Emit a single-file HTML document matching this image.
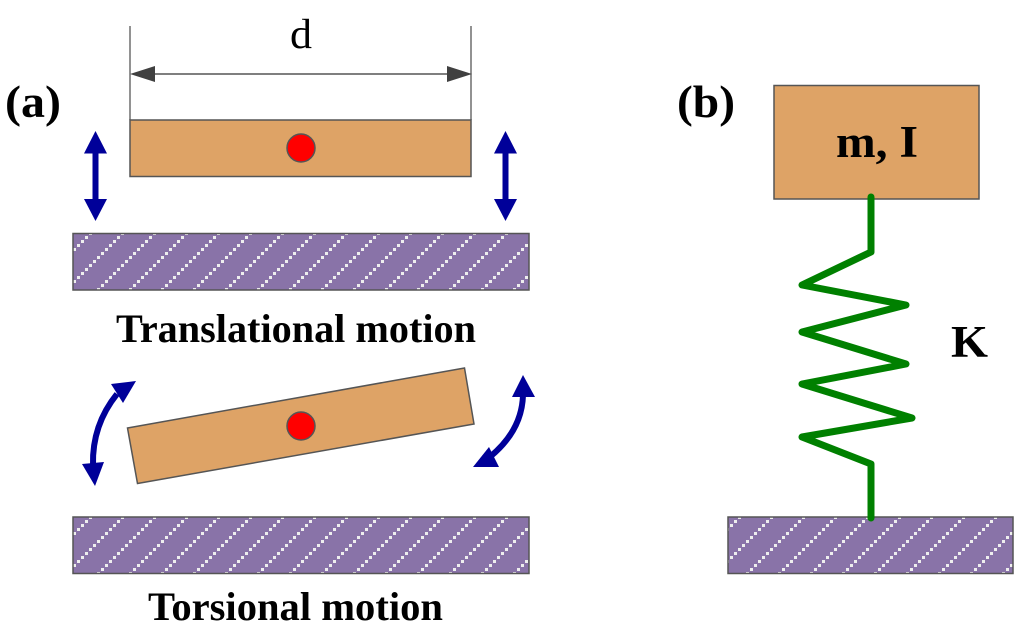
<!DOCTYPE html>
<html><head><meta charset="utf-8"><style>
html,body{margin:0;padding:0;background:#fff}
svg{display:block}
text{font-family:"Liberation Serif",serif;fill:#000}
.b{font-weight:bold}
</style></head><body>
<svg width="1024" height="639" viewBox="0 0 1024 639" xmlns="http://www.w3.org/2000/svg">
<defs>
<pattern id="h1" patternUnits="userSpaceOnUse" width="32" height="32" x="1" y="0"><rect width="32" height="32" fill="#8973a8"/><path fill="#eee" d="M0 0h3v3h-3zM4 28h3v3h-3zM8 24h3v3h-3zM12 20h3v3h-3zM16 16h3v3h-3zM20 12h3v3h-3zM24 8h3v3h-3zM28 4h3v3h-3z"/></pattern>
<pattern id="h2" patternUnits="userSpaceOnUse" width="32" height="32" x="-3" y="0"><rect width="32" height="32" fill="#8973a8"/><path fill="#eee" d="M0 0h3v3h-3zM4 28h3v3h-3zM8 24h3v3h-3zM12 20h3v3h-3zM16 16h3v3h-3zM20 12h3v3h-3zM24 8h3v3h-3zM28 4h3v3h-3z"/></pattern>
<pattern id="h3" patternUnits="userSpaceOnUse" width="32" height="32" x="6" y="0"><rect width="32" height="32" fill="#8973a8"/><path fill="#eee" d="M0 0h3v3h-3zM4 28h3v3h-3zM8 24h3v3h-3zM12 20h3v3h-3zM16 16h3v3h-3zM20 12h3v3h-3zM24 8h3v3h-3zM28 4h3v3h-3z"/></pattern>
</defs>

<!-- dimension -->
<path d="M130 26V120M471 26V120" stroke="#6e6e6e" stroke-width="1.5" fill="none"/>
<path d="M150 74H452" stroke="#555" stroke-width="1.5" fill="none"/>
<polygon points="130,74 155,66 155,82" fill="#404040"/>
<polygon points="472,74 447,66 447,82" fill="#404040"/>
<text x="290" y="48" font-size="42" textLength="22" lengthAdjust="spacingAndGlyphs">d</text>

<!-- top bar -->
<rect x="130" y="120" width="341" height="56.5" fill="#dea366" stroke="#555" stroke-width="1.5"/>
<circle cx="301" cy="148" r="14" fill="#ff0000" stroke="#555" stroke-width="1.5"/>

<!-- grounds -->
<rect x="73" y="233.5" width="456" height="56.5" fill="url(#h1)" stroke="#555" stroke-width="1.5"/>
<rect x="73" y="517" width="456" height="56.5" fill="url(#h2)" stroke="#555" stroke-width="1.5"/>
<rect x="728" y="517" width="285" height="56.5" fill="url(#h3)" stroke="#555" stroke-width="1.5"/>

<!-- straight arrows -->
<g fill="#000099" stroke="none">
<rect x="92.5" y="150" width="6" height="52"/>
<polygon points="95.5,131 107,153.5 84,153.5"/>
<polygon points="95.5,221 107,199 84,199"/>
<rect x="502.5" y="150" width="6" height="52"/>
<polygon points="505.5,131 517,153.5 494,153.5"/>
<polygon points="505.5,221 517,199 494,199"/>
</g>

<!-- tilted bar -->
<polygon points="127.5,428 464.5,368 474,424 137.5,483.5" fill="#dea366" stroke="#555" stroke-width="1.5"/>
<circle cx="301" cy="426" r="14" fill="#ff0000" stroke="#555" stroke-width="1.5"/>

<!-- curved arrows -->
<path d="M117 394Q92 425 93 465" stroke="#000099" stroke-width="6" fill="none"/>
<polygon points="136,381 111,384 123,403" fill="#000099"/>
<polygon points="95,486 82,464 104,462" fill="#000099"/>
<path d="M523 395Q522 430 491 456" stroke="#000099" stroke-width="6" fill="none"/>
<polygon points="523,375 512,397 535,397" fill="#000099"/>
<polygon points="473,467 489,447 499,467" fill="#000099"/>

<!-- box b -->
<rect x="774" y="85.5" width="205" height="113.5" fill="#dea366" stroke="#555" stroke-width="1.5"/>
<text class="b" x="836" y="157" font-size="45" textLength="82" lengthAdjust="spacingAndGlyphs">m, I</text>

<!-- spring -->
<polyline points="871,197 871,252 802,285 906,305 802,332 906,364 802,384 912,418 802,437 871,464 871,518" fill="none" stroke="#008000" stroke-width="7" stroke-linecap="round" stroke-linejoin="round"/>

<!-- labels -->
<text class="b" x="5" y="117" font-size="45" textLength="56" lengthAdjust="spacingAndGlyphs">(a)</text>
<text class="b" x="677" y="117" font-size="45" textLength="58" lengthAdjust="spacingAndGlyphs">(b)</text>
<text class="b" x="116" y="342" font-size="40" textLength="360" lengthAdjust="spacingAndGlyphs">Translational motion</text>
<text class="b" x="148" y="620" font-size="40" textLength="295" lengthAdjust="spacingAndGlyphs">Torsional motion</text>
<text class="b" x="951" y="357" font-size="45" textLength="37" lengthAdjust="spacingAndGlyphs">K</text>
</svg>
</body></html>
